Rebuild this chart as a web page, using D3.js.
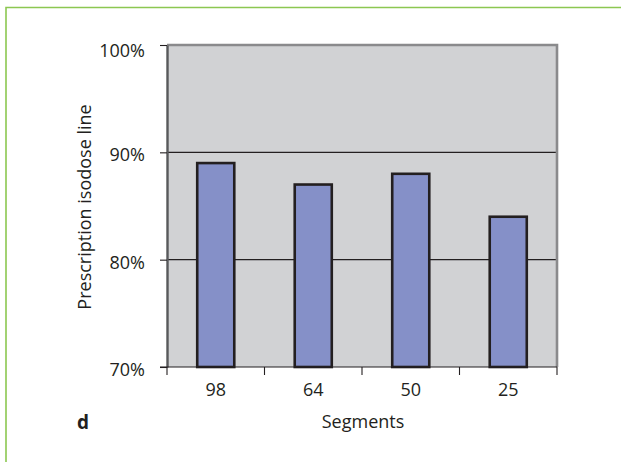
<!DOCTYPE html>
<html>
<head>
<meta charset="utf-8">
<script src="https://cdn.jsdelivr.net/npm/d3@7"></script>
<style>
  html, body { margin: 0; padding: 0; background: #fff; }
  svg { display: block; font-family: "Open Sans", "Noto Sans", sans-serif; }
</style>
</head>
<body>
<svg id="chart" width="621" height="462"></svg>
<script>
// Segment counts and the prescription isodose line for each
const segments = ["98", "64", "50", "25"];
const isodose = [89, 87, 88, 84];
const yTicks = [70, 80, 90, 100];
const yTitle = "Prescription isodose line";
const xTitle = "Segments";
const panelLabel = "d";

const FONT = "'Open Sans', 'Noto Sans', sans-serif";
const FS = 18;
const INK = "#231f20";

const svg = d3.select("#chart");
const plot = { left: 167, top: 45, right: 557, bottom: 367 };

// Panel frame
svg.append("path")
  .attr("d", "M6,470 V7.5 H630")
  .attr("fill", "none")
  .attr("stroke", "#8cc751")
  .attr("stroke-width", 1.6);

const x = d3.scaleBand().domain(segments).range([plot.left, plot.right]).paddingInner(0.62).paddingOuter(0.31);
const xEdges = d3.scaleLinear().domain([0, segments.length]).range([plot.left, plot.right]);
const y = d3.scaleLinear().domain([70, 100]).range([plot.bottom, plot.top]);

// Plot background
svg.append("rect")
  .attr("x", plot.left).attr("y", plot.top)
  .attr("width", plot.right - plot.left).attr("height", plot.bottom - plot.top)
  .attr("fill", "#d1d2d4");

// Gridlines
svg.append("g").selectAll("line")
  .data(yTicks.filter(t => t > 70 && t < 100))
  .join("line")
  .attr("x1", plot.left).attr("x2", plot.right)
  .attr("y1", d => y(d)).attr("y2", d => y(d))
  .attr("stroke", INK).attr("stroke-width", 1.1);

// Top and right borders
svg.append("path")
  .attr("d", `M${plot.left},${plot.top} H${plot.right} V${plot.bottom}`)
  .attr("fill", "none").attr("stroke", "#8a8a8c").attr("stroke-width", 2.6);

// Bars
svg.append("g").selectAll("rect")
  .data(segments)
  .join("rect")
  .attr("x", d => x(d))
  .attr("width", x.bandwidth())
  .attr("y", (d, i) => y(isodose[i]))
  .attr("height", (d, i) => y(70) - y(isodose[i]))
  .attr("fill", "#8590c8")
  .attr("stroke", INK).attr("stroke-width", 2.6);

// Y axis
const yAxis = svg.append("g")
  .attr("transform", `translate(${plot.left},0)`)
  .call(d3.axisLeft(y).tickValues(yTicks).tickSize(7).tickSizeOuter(0).tickPadding(15)
    .tickFormat(d => d + "%"));
yAxis.select(".domain").attr("stroke", "#58595b").attr("stroke-width", 2.4);
yAxis.selectAll(".tick line").attr("stroke", INK).attr("stroke-width", 1.1);
yAxis.selectAll(".tick text")
  .attr("font-size", FS).attr("font-family", FONT).attr("fill", INK)
  .attr("dy", d => d === 100 ? "0.62em" : "0.48em");

// X axis: ticks at category boundaries, labels at band centers
const xAxisG = svg.append("g").attr("transform", `translate(0,${plot.bottom})`);
xAxisG.append("line")
  .attr("x1", plot.left - 7).attr("x2", plot.right)
  .attr("stroke", INK).attr("stroke-width", 1.2);
xAxisG.selectAll("line.tk")
  .data(d3.range(segments.length + 1))
  .join("line").attr("class", "tk")
  .attr("x1", d => xEdges(d)).attr("x2", d => xEdges(d))
  .attr("y1", 0).attr("y2", 8)
  .attr("stroke", INK).attr("stroke-width", 1.1);
xAxisG.selectAll("text")
  .data(segments)
  .join("text")
  .attr("x", d => x(d) + x.bandwidth() / 2)
  .attr("y", 29)
  .attr("text-anchor", "middle")
  .attr("font-size", FS).attr("font-family", FONT).attr("fill", INK)
  .text(d => d);

// Axis titles
svg.append("text")
  .attr("transform", `translate(91,${(plot.top + plot.bottom) / 2 + 1}) rotate(-90)`)
  .attr("text-anchor", "middle")
  .attr("font-size", FS).attr("font-family", FONT).attr("fill", INK)
  .text(yTitle);

svg.append("text")
  .attr("x", (plot.left + plot.right) / 2 + 1)
  .attr("y", 428)
  .attr("text-anchor", "middle")
  .attr("font-size", FS).attr("font-family", FONT).attr("fill", INK)
  .text(xTitle);

// Panel letter
svg.append("text")
  .attr("x", 77).attr("y", 429)
  .attr("font-size", 19).attr("font-weight", "bold").attr("font-family", FONT).attr("fill", INK)
  .text(panelLabel);
</script>
</body>
</html>
